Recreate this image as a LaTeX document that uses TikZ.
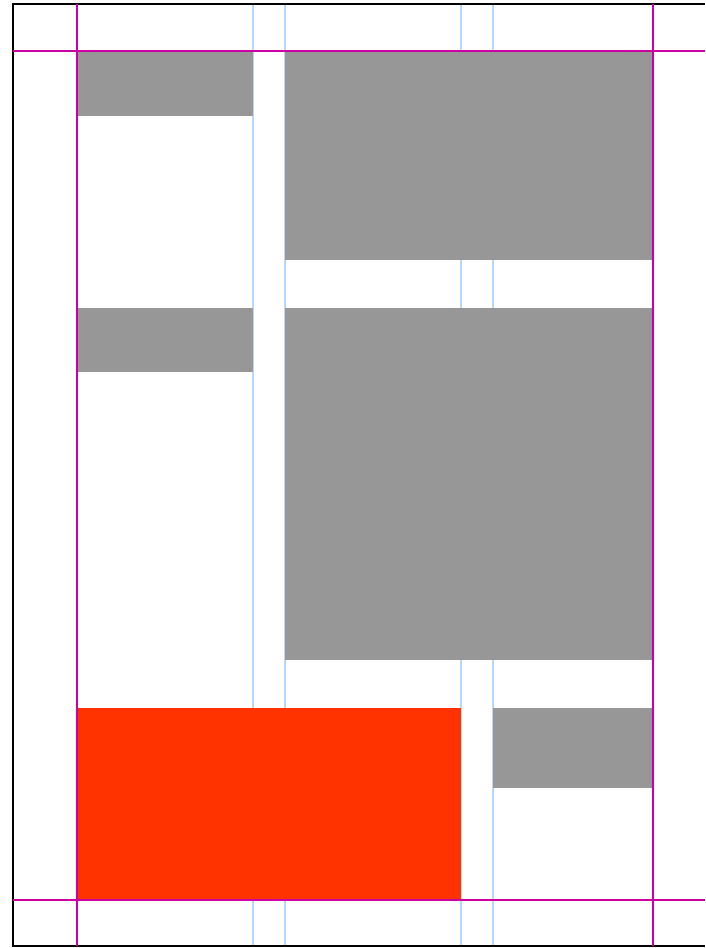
\documentclass[tikz,border=0pt]{standalone}
\usetikzlibrary{calc}
\definecolor{guideblue}{RGB}{184,216,248}
\definecolor{marginpink}{RGB}{204,0,160}
\definecolor{boxgray}{RGB}{151,151,151}
\definecolor{accentred}{RGB}{255,51,0}

\begin{document}
\begin{tikzpicture}[x=1pt, y=-1pt]
  \useasboundingbox (0,0) rectangle (705,948);
  \fill[white] (0,0) rectangle (705,948);
  % Spaltenhilfslinien
  \foreach \x in {253,285,461,493} \draw[guideblue, line width=1.5pt] (\x,4) -- (\x,946);
  % Rahmen
  \coordinate (TL) at (13,4);
  \coordinate (BL) at (13,946);
  \draw[black, line width=2pt] (705,4) -- (TL) -- (BL) -- (705,946);
  % Kaesten
  \fill[boxgray] (77,51) rectangle (253,116);
  \fill[boxgray] (285,51) rectangle (653,260);
  \fill[boxgray] (77,308) rectangle (253,372);
  \fill[boxgray] (285,308) rectangle (653,660);
  \fill[accentred] (77,708) rectangle (461,900);
  \fill[boxgray] (493,708) rectangle (653,788);
  % Raender
  \draw[marginpink, line width=1.5pt] (13,51) -- (705,51);
  \draw[marginpink, line width=1.5pt] (13,900) -- (705,900);
  \foreach \x in {77,653} \draw[marginpink, line width=1.5pt] (\x,4) -- (\x,946);
\end{tikzpicture}
\end{document}
